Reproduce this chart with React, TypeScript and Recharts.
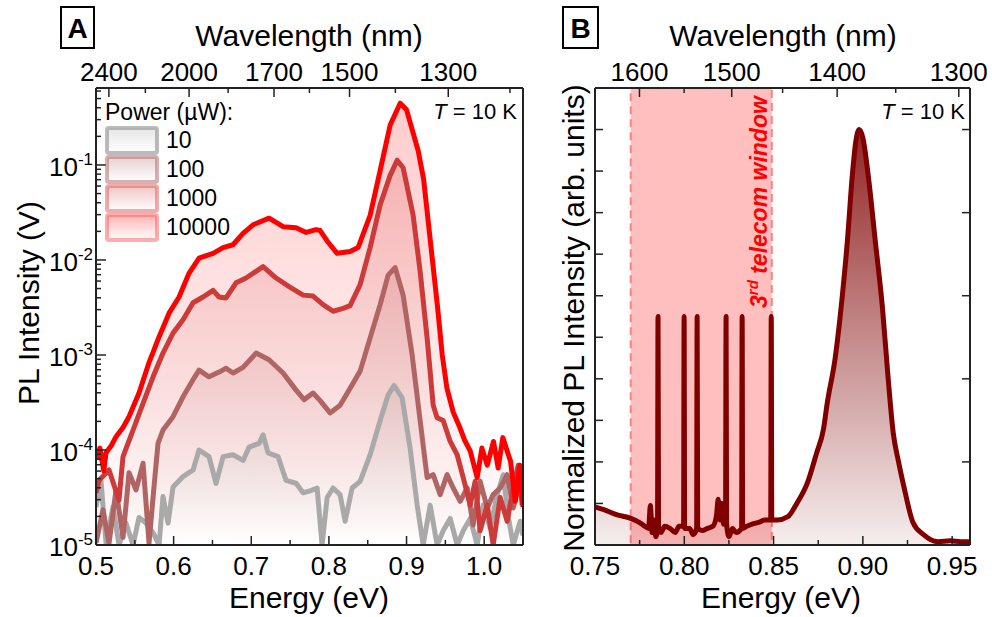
import React from 'react';
import { ComposedChart, Area, Line, XAxis, YAxis, ReferenceArea } from 'recharts';

const FONT = '"Liberation Sans", Arial, Helvetica, sans-serif';
const AXIS = '#222';
const HC = 1239.84; // eV * nm, energy <-> wavelength

// ---- Panel A: PL spectra at 10 K, log10 of intensity (V) vs energy (eV)
const a10E = [0.5, 0.5064, 0.5129, 0.5219, 0.5296, 0.5387, 0.5477, 0.5554, 0.5644, 0.5735, 0.5812, 0.5863, 0.5928, 0.5992, 0.6121, 0.625, 0.6327, 0.6456, 0.6546, 0.6637, 0.6765, 0.6894, 0.6972, 0.71, 0.7152, 0.7216, 0.7345, 0.7448, 0.7577, 0.7668, 0.7758, 0.7848, 0.7912, 0.7977, 0.8054, 0.8144, 0.8209, 0.8299, 0.8402, 0.8531, 0.866, 0.8763, 0.884, 0.8943, 0.9046, 0.9137, 0.9214, 0.9304, 0.9394, 0.9472, 0.9562, 0.9652, 0.973, 0.982, 0.991, 0.9987, 1.0077, 1.0168, 1.0245, 1.031, 1.0374, 1.0464, 1.05];
const a10Log = [-4.6, -4.32, -4.98, -4.6, -5.0, -4.77, -5.0, -4.71, -4.77, -4.87, -5.0, -4.49, -4.77, -4.39, -4.28, -4.21, -4.0, -4.07, -4.35, -4.07, -4.05, -4.11, -3.97, -3.93, -3.84, -4.03, -4.07, -4.32, -4.35, -4.45, -4.43, -4.4, -5.0, -4.5, -4.4, -4.47, -4.75, -4.4, -4.33, -4.05, -3.69, -3.42, -3.32, -3.45, -3.98, -4.58, -5.0, -4.58, -5.0, -4.85, -4.72, -5.0, -4.85, -4.72, -5.0, -4.58, -4.82, -4.47, -4.26, -4.7, -5.0, -4.75, -4.9];

const a100E = [0.5, 0.509, 0.5168, 0.5258, 0.5348, 0.5425, 0.5515, 0.5606, 0.5683, 0.5747, 0.5799, 0.5863, 0.5992, 0.6121, 0.625, 0.6327, 0.6456, 0.6585, 0.6675, 0.6765, 0.6894, 0.7062, 0.7229, 0.741, 0.7577, 0.768, 0.7796, 0.7887, 0.8015, 0.8144, 0.8273, 0.8402, 0.8531, 0.866, 0.8763, 0.8853, 0.8956, 0.9072, 0.9175, 0.9265, 0.9343, 0.9433, 0.9523, 0.9601, 0.9691, 0.9781, 0.9858, 0.9948, 1.0039, 1.0116, 1.0206, 1.0296, 1.0374, 1.0464, 1.05];
const a100Log = [-4.98, -4.63, -4.98, -4.42, -4.92, -4.24, -4.42, -4.14, -4.98, -4.39, -3.93, -3.79, -3.65, -3.44, -3.26, -3.16, -3.23, -3.18, -3.14, -3.19, -3.13, -2.98, -3.05, -3.19, -3.37, -3.47, -3.4, -3.48, -3.61, -3.53, -3.35, -3.17, -2.82, -2.47, -2.16, -2.08, -2.37, -3.0, -3.69, -4.29, -4.26, -4.47, -4.26, -4.4, -4.54, -4.4, -4.79, -4.33, -4.61, -4.47, -4.4, -4.26, -4.61, -4.33, -4.5];

const a1000E = [0.5, 0.5039, 0.5168, 0.5296, 0.5348, 0.5477, 0.5606, 0.5735, 0.5863, 0.5992, 0.6121, 0.625, 0.6379, 0.6508, 0.6585, 0.6675, 0.6804, 0.6933, 0.7152, 0.732, 0.7487, 0.7668, 0.7796, 0.7925, 0.8054, 0.8183, 0.8273, 0.8402, 0.8531, 0.866, 0.8789, 0.8879, 0.8956, 0.9085, 0.9175, 0.9265, 0.9343, 0.9394, 0.9472, 0.9562, 0.9652, 0.973, 0.982, 0.9884, 0.9948, 1.0039, 1.0116, 1.0206, 1.0296, 1.0374, 1.0438, 1.049];
const a1000Log = [-4.45, -4.32, -4.21, -4.53, -4.07, -3.79, -3.51, -3.23, -2.98, -2.77, -2.63, -2.45, -2.39, -2.32, -2.39, -2.4, -2.24, -2.19, -2.07, -2.19, -2.28, -2.37, -2.38, -2.47, -2.54, -2.51, -2.48, -2.26, -1.87, -1.42, -1.11, -0.95, -1.03, -1.53, -2.12, -2.82, -3.53, -3.66, -3.69, -3.91, -4.05, -4.29, -4.58, -4.33, -4.85, -4.58, -5.0, -4.5, -4.75, -4.4, -4.16, -4.58];

const a10000E = [0.5, 0.505, 0.51, 0.5129, 0.52, 0.5258, 0.535, 0.5425, 0.5554, 0.5683, 0.5812, 0.5941, 0.607, 0.6198, 0.6327, 0.6508, 0.6637, 0.6765, 0.6894, 0.7023, 0.7229, 0.741, 0.7577, 0.7706, 0.7835, 0.7887, 0.7977, 0.8106, 0.8273, 0.8376, 0.8531, 0.866, 0.8789, 0.8918, 0.9, 0.907, 0.915, 0.922, 0.928, 0.934, 0.94, 0.946, 0.952, 0.96, 0.968, 0.975, 0.982, 0.991, 0.997, 1.004, 1.012, 1.018, 1.024, 1.034, 1.04, 1.046, 1.05];
const a10000Log = [-4.1, -3.98, -4.22, -4.03, -3.95, -3.86, -3.76, -3.65, -3.4, -3.08, -2.81, -2.56, -2.39, -2.14, -1.98, -1.93, -1.87, -1.84, -1.72, -1.63, -1.56, -1.65, -1.66, -1.71, -1.68, -1.69, -1.8, -1.93, -1.91, -1.87, -1.53, -1.06, -0.58, -0.35, -0.42, -0.62, -0.85, -1.15, -1.6, -2.05, -2.5, -3.0, -3.35, -3.6, -3.75, -3.9, -4.01, -4.29, -3.98, -4.16, -3.91, -4.19, -3.87, -4.12, -4.54, -4.16, -4.6];

const aPowers = ['10', '100', '1000', '10000'];

// ---- Panel B: normalized PL vs energy (eV)
const bE = [0.75, 0.755, 0.762, 0.77, 0.775, 0.778, 0.78, 0.781, 0.782, 0.783, 0.784, 0.785, 0.7853, 0.7856, 0.787, 0.789, 0.792, 0.795, 0.797, 0.7996, 0.7999, 0.8002, 0.803, 0.805, 0.8069, 0.8072, 0.8075, 0.81, 0.813, 0.816, 0.818, 0.819, 0.82, 0.821, 0.822, 0.8231, 0.8234, 0.8237, 0.825, 0.827, 0.829, 0.8321, 0.8324, 0.8327, 0.835, 0.838, 0.842, 0.845, 0.8484, 0.8487, 0.849, 0.852, 0.858, 0.863, 0.869, 0.874, 0.878, 0.88, 0.8845, 0.8885, 0.8913, 0.8941, 0.896, 0.898, 0.9, 0.903, 0.907, 0.911, 0.914, 0.917, 0.92, 0.923, 0.928, 0.934, 0.942, 0.949, 0.955, 0.96];
const bNorm = [0.092, 0.085, 0.073, 0.064, 0.054, 0.045, 0.04, 0.095, 0.03, 0.06, 0.02, 0.04, 0.55, 0.04, 0.03, 0.045, 0.04, 0.03, 0.045, 0.045, 0.55, 0.04, 0.04, 0.025, 0.04, 0.55, 0.04, 0.035, 0.04, 0.045, 0.07, 0.11, 0.06, 0.1, 0.05, 0.06, 0.55, 0.05, 0.02, 0.04, 0.03, 0.04, 0.55, 0.04, 0.045, 0.05, 0.055, 0.06, 0.06, 0.55, 0.06, 0.06, 0.068, 0.1, 0.15, 0.22, 0.28, 0.34, 0.45, 0.6, 0.73, 0.89, 0.97, 1.0, 0.98, 0.89, 0.73, 0.57, 0.41, 0.27, 0.2, 0.14, 0.055, 0.025, 0.008, 0.01, 0.008, 0.008];
const telecomWindow = [0.77, 0.849];

// ---- ticks
const aEnergyTicks = [0.5, 0.55, 0.6, 0.65, 0.7, 0.75, 0.8, 0.85, 0.9, 0.95, 1.0, 1.05];
const aWaveMajor = [2400, 2000, 1700, 1500, 1300];
const aWaveMinor = [2200, 1850, 1600, 1400, 1200];
const aDecades = [-5, -4, -3, -2, -1];
const aMinorMult = [2, 3, 4, 5, 6, 7, 8, 9];
const bEnergyTicks = [0.75, 0.775, 0.8, 0.825, 0.85, 0.875, 0.9, 0.925, 0.95];
const bWaveMajor = [1600, 1500, 1400, 1300];
const bWaveMinor = [1550, 1450, 1350];
const bNormTicks = [0, 0.1, 0.2, 0.3, 0.4, 0.5, 0.6, 0.7, 0.8, 0.9, 1.0];

const A_DOMAIN: [number, number] = [0.5, 1.05];
const A_LOG_DOMAIN: [number, number] = [-5, -0.19];
const B_DOMAIN: [number, number] = [0.75, 0.96];
const B_Y_DOMAIN: [number, number] = [0, 1.1];

const zip = (xs: number[], ys: number[]) => xs.map((e, i) => ({ e, v: ys[i] }));

const aSeries = [
  { id: 'p10', data: zip(a10E, a10Log), color: '#a9a9a9', legend: 'rgba(150,150,150,0.65)' },
  { id: 'p100', data: zip(a100E, a100Log), color: '#b06464', legend: 'rgba(176,100,100,0.5)' },
  { id: 'p1000', data: zip(a1000E, a1000Log), color: '#cc3a3a', legend: 'rgba(225,90,90,0.5)' },
  { id: 'p10000', data: zip(a10000E, a10000Log), color: '#ff0000', legend: 'rgba(255,90,90,0.5)' },
];
const bData = zip(bE, bNorm);

const aLogTicks = [
  ...aDecades,
  ...aDecades.flatMap((d) => aMinorMult.map((k) => d + Math.log10(k))),
].filter((t) => t >= A_LOG_DOMAIN[0] && t <= A_LOG_DOMAIN[1]).sort((p, q) => p - q);

const toEnergy = (nm: number) => HC / nm;
const aTopTicks = [...aWaveMajor, ...aWaveMinor].map(toEnergy).sort((p, q) => p - q);
const bTopTicks = [...bWaveMajor, ...bWaveMinor].map(toEnergy).sort((p, q) => p - q);

const isMult = (v: number, step: number) => Math.abs(v / step - Math.round(v / step)) < 1e-6;

const labelStyle = { fontFamily: FONT, fill: '#000' };

// custom ticks, all pointing into the plot (tickSize/tickMargin = 0, so x/y sit on the axis line)
const bottomTick = (step: number, digits: number) => (p: any) => {
  const v = p.payload.value;
  const major = isMult(v, step);
  return (
    <g>
      <line x1={p.x} x2={p.x} y1={p.y} y2={p.y - (major ? 9 : 5)} stroke={AXIS} strokeWidth={1.5} />
      {major && (
        <text x={p.x} y={p.y + 30} textAnchor="middle" fontSize={26} {...labelStyle}>
          {v.toFixed(digits)}
        </text>
      )}
    </g>
  );
};

const topTick = (majors: number[]) => (p: any) => {
  const nm = Math.round(HC / p.payload.value);
  const major = majors.includes(nm);
  return (
    <g>
      <line x1={p.x} x2={p.x} y1={p.y} y2={p.y + (major ? 9 : 5)} stroke={AXIS} strokeWidth={1.5} />
      {major && (
        <text x={p.x} y={p.y - 7} textAnchor="middle" fontSize={26} {...labelStyle}>
          {nm}
        </text>
      )}
    </g>
  );
};

const logTick = (p: any) => {
  const v = p.payload.value;
  const major = Math.abs(v - Math.round(v)) < 1e-6;
  return (
    <g>
      <line x1={p.x} x2={p.x + (major ? 10 : 5)} y1={p.y} y2={p.y} stroke={AXIS} strokeWidth={1.5} />
      {major && (
        <text x={p.x - 3} y={p.y + 11} textAnchor="end" fontSize={26} {...labelStyle}>
          10
          <tspan dy={-11} fontSize={17}>
            {Math.round(v)}
          </tspan>
        </text>
      )}
    </g>
  );
};

const sideTick = (dir: number, len: number) => (p: any) => (
  <line x1={p.x} x2={p.x + dir * len} y1={p.y} y2={p.y} stroke={AXIS} strokeWidth={1.5} />
);

const axisLine = { stroke: AXIS, strokeWidth: 2 };

function PanelA() {
  return (
    <ComposedChart width={560} height={617} margin={{ top: 48, right: 36, bottom: 32, left: 36 }}>
      <defs>
        {aSeries.map((s) => (
          <linearGradient key={s.id} id={`fill-${s.id}`} x1="0" y1="0" x2="0" y2="1">
            <stop offset="0%" stopColor={s.color} stopOpacity={0.2} />
            <stop offset="100%" stopColor={s.color} stopOpacity={0} />
          </linearGradient>
        ))}
      </defs>
      <XAxis xAxisId="b" dataKey="e" type="number" domain={A_DOMAIN} allowDataOverflow ticks={aEnergyTicks}
        interval={0} tickSize={0} tickMargin={0} tick={bottomTick(0.1, 1)} height={40} axisLine={axisLine} />
      <XAxis xAxisId="t" orientation="top" dataKey="e" type="number" domain={A_DOMAIN} allowDataOverflow
        ticks={aTopTicks} interval={0} tickSize={0} tickMargin={0} tick={topTick(aWaveMajor)} height={40}
        axisLine={axisLine} />
      <YAxis yAxisId="l" type="number" domain={A_LOG_DOMAIN} allowDataOverflow ticks={aLogTicks} interval={0}
        tickSize={0} tickMargin={0} tick={logTick} width={60} axisLine={axisLine} />
      <YAxis yAxisId="r" orientation="right" type="number" domain={A_LOG_DOMAIN} allowDataOverflow tick={false}
        tickLine={false} width={1} axisLine={axisLine} />
      {aSeries.map((s) => (
        <Area key={`a-${s.id}`} data={s.data} dataKey="v" xAxisId="b" yAxisId="l" type="linear"
          baseValue="dataMin" stroke="none" fill={`url(#fill-${s.id})`} fillOpacity={1}
          isAnimationActive={false} />
      ))}
      {aSeries.map((s) => (
        <Line key={`l-${s.id}`} data={s.data} dataKey="v" xAxisId="b" yAxisId="l" type="linear"
          stroke={s.color} strokeWidth={5} dot={false} strokeLinejoin="round" isAnimationActive={false} />
      ))}
    </ComposedChart>
  );
}

function PanelB() {
  return (
    <ComposedChart width={432} height={617} margin={{ top: 48, right: 21, bottom: 32, left: 15 }}>
      <defs>
        <linearGradient id="fill-norm" x1="0" y1="0" x2="0" y2="1">
          <stop offset="0%" stopColor="#800000" stopOpacity={0.85} />
          <stop offset="100%" stopColor="#800000" stopOpacity={0.07} />
        </linearGradient>
      </defs>
      <XAxis xAxisId="b" dataKey="e" type="number" domain={B_DOMAIN} allowDataOverflow ticks={bEnergyTicks}
        interval={0} tickSize={0} tickMargin={0} tick={bottomTick(0.05, 2)} height={40} axisLine={axisLine} />
      <XAxis xAxisId="t" orientation="top" dataKey="e" type="number" domain={B_DOMAIN} allowDataOverflow
        ticks={bTopTicks} interval={0} tickSize={0} tickMargin={0} tick={topTick(bWaveMajor)} height={40}
        axisLine={axisLine} />
      <YAxis yAxisId="l" type="number" domain={B_Y_DOMAIN} allowDataOverflow ticks={bNormTicks} interval={0}
        tickSize={0} tickMargin={0} tick={sideTick(1, 8)} width={20} axisLine={axisLine} />
      <YAxis yAxisId="r" orientation="right" type="number" domain={B_Y_DOMAIN} allowDataOverflow
        ticks={bNormTicks.filter((t) => isMult(t, 0.2) && t > 0)} interval={0} tickSize={0} tickMargin={0}
        tick={sideTick(-1, 8)} width={1} axisLine={axisLine} />
      <ReferenceArea xAxisId="b" yAxisId="l" x1={telecomWindow[0]} x2={telecomWindow[1]} fill="#ff0000"
        fillOpacity={0.25} stroke="#ff8080" strokeWidth={2} strokeDasharray="8 5" />
      <Area data={bData} dataKey="v" xAxisId="b" yAxisId="l" type="monotone" baseValue={0} stroke="#800000"
        strokeWidth={5} strokeLinejoin="round" fill="url(#fill-norm)" fillOpacity={1} isAnimationActive={false} />
    </ComposedChart>
  );
}

const legendTop = [128, 157, 186, 215];

function Overlay() {
  return (
    <svg width={992} height={617} style={{ position: 'absolute', left: 0, top: 0, pointerEvents: 'none' }}
      fontFamily={FONT}>
      <defs>
        {aSeries.map((s) => (
          <linearGradient key={s.id} id={`leg-${s.id}`} x1="0" y1="0" x2="0" y2="1">
            <stop offset="0%" stopColor={s.color} stopOpacity={0.3} />
            <stop offset="100%" stopColor={s.color} stopOpacity={0} />
          </linearGradient>
        ))}
      </defs>

      {/* panel letters */}
      <rect x={61} y={7} width={33} height={41} fill="#fff" stroke="#000" strokeWidth={2} />
      <text x={77.5} y={38} textAnchor="middle" fontSize={28} fontWeight="bold">A</text>
      <rect x={563} y={7} width={35} height={41} fill="#fff" stroke="#000" strokeWidth={2} />
      <text x={580.5} y={38} textAnchor="middle" fontSize={28} fontWeight="bold">B</text>

      {/* axis titles */}
      <text x={309} y={46} textAnchor="middle" fontSize={30}>Wavelength (nm)</text>
      <text x={783} y={46} textAnchor="middle" fontSize={30}>Wavelength (nm)</text>
      <text x={309} y={608} textAnchor="middle" fontSize={30}>Energy (eV)</text>
      <text x={781} y={608} textAnchor="middle" fontSize={30}>Energy (eV)</text>
      <text transform="translate(28,303) rotate(-90)" textAnchor="middle" dominantBaseline="central" fontSize={30}>
        PL Intensity (V)
      </text>
      <text transform="translate(573,318) rotate(-90)" textAnchor="middle" dominantBaseline="central" fontSize={30}>
        Normalized PL Intensity (arb. units)
      </text>

      {/* temperature */}
      <text x={517} y={119} textAnchor="end" fontSize={22}>
        <tspan fontStyle="italic">T</tspan> = 10 K
      </text>
      <text x={965} y={119} textAnchor="end" fontSize={22}>
        <tspan fontStyle="italic">T</tspan> = 10 K
      </text>

      {/* legend */}
      <text x={105} y={120} fontSize={23}>Power (µW):</text>
      {aSeries.map((s, i) => (
        <g key={s.id}>
          <rect x={107} y={legendTop[i]} width={50} height={25} rx={2} fill={`url(#leg-${s.id})`}
            stroke={s.legend} strokeWidth={4} />
          <text x={166} y={legendTop[i] + 20} fontSize={23}>{aPowers[i]}</text>
        </g>
      ))}

      {/* telecom window label */}
      <text transform="translate(767,308) rotate(-90)" fontSize={23} fontWeight="bold" fontStyle="italic"
        fill="#ff0000">
        3<tspan dy={-9} fontSize={15}>rd</tspan>
        <tspan dy={9}> telecom window</tspan>
      </text>
    </svg>
  );
}

export default function App() {
  return (
    <div style={{ position: 'absolute', left: 0, top: 0, width: 992, height: 617, background: '#fff' }}>
      <div style={{ position: 'absolute', left: 0, top: 0 }}>
        <PanelA />
      </div>
      <div style={{ position: 'absolute', left: 560, top: 0 }}>
        <PanelB />
      </div>
      <Overlay />
    </div>
  );
}
